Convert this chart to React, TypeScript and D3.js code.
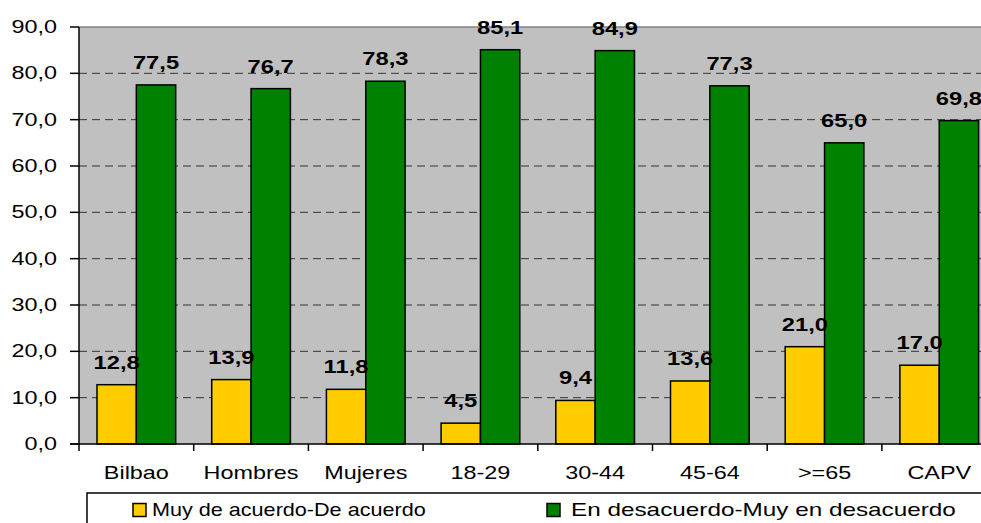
import React from "react";
import * as d3 from "d3";

const categories = ["Bilbao", "Hombres", "Mujeres", "18-29", "30-44", "45-64", ">=65", "CAPV"];
const seriesNames = ["Muy de acuerdo-De acuerdo", "En desacuerdo-Muy en desacuerdo"];
const acuerdo = [12.8, 13.9, 11.8, 4.5, 9.4, 13.6, 21.0, 17.0];
const desacuerdo = [77.5, 76.7, 78.3, 85.1, 84.9, 77.3, 65.0, 69.8];
const yTicks = [0, 10, 20, 30, 40, 50, 60, 70, 80, 90];
const colors = ["#FFCC00", "#008000"];

const W = 981;
const H = 523;
const left = 79;
const right = 996.6;
const top = 27;
const bottom = 444;

const fmt = (v: number) => d3.format(".1f")(v).replace(".", ",");
const font = "'Liberation Sans', Arial, sans-serif";

function T({ x, y, anchor = "start", size = 18, bold = false, sx = 1.3, children }: any) {
  return (
    <text
      transform={`translate(${x},${y}) scale(${sx},1)`}
      textAnchor={anchor}
      fontSize={size}
      fontWeight={bold ? "bold" : "normal"}
      fill="#000"
    >
      {children}
    </text>
  );
}

export default function App() {
  const x = d3.scaleBand<string>().domain(categories).range([left, right]).paddingInner(0.314).paddingOuter(0.157);
  const x0 = d3.scaleBand<string>().domain(categories).range([left, right]);
  const x1 = d3.scaleBand<number>().domain([0, 1]).range([0, x.bandwidth()]);
  const y = d3.scaleLinear().domain([0, 90]).range([bottom, top]);
  const series = [acuerdo, desacuerdo];

  return (
    <svg width={W} height={H} style={{ position: "absolute", left: 0, top: 0 }} fontFamily={font}>
      <rect x={left} y={top} width={right - left} height={bottom - top} fill="#C0C0C0" />
      <line x1={left} x2={right} y1={top} y2={top} stroke="#808080" strokeWidth={1.5} />
      {yTicks.filter((t) => t > 0 && t < 90).map((t) => (
        <line key={t} x1={left} x2={right} y1={y(t)} y2={y(t)} stroke="#333" strokeWidth={1} strokeDasharray="8,5" />
      ))}
      {series.map((vals, si) =>
        vals.map((v, i) => (
          <rect
            key={`${si}-${i}`}
            x={(x(categories[i]) as number) + (x1(si) as number)}
            y={y(v)}
            width={x1.bandwidth()}
            height={bottom - y(v)}
            fill={colors[si]}
            stroke="#000"
            strokeWidth={1.5}
          />
        ))
      )}
      {series.map((vals, si) =>
        vals.map((v, i) => (
          <T
            key={`l${si}-${i}`}
            x={(x(categories[i]) as number) + (x1(si) as number) + x1.bandwidth() / 2}
            y={y(v) - 16}
            anchor="middle"
            size={18}
            bold
            sx={1.32}
          >
            {fmt(v)}
          </T>
        ))
      )}
      <line x1={left} x2={left} y1={top} y2={bottom + 7} stroke="#000" strokeWidth={1.5} />
      <line x1={left - 9} x2={right} y1={bottom} y2={bottom} stroke="#000" strokeWidth={1.5} />
      {yTicks.map((t) => (
        <g key={`yt${t}`}>
          <line x1={left - 9} x2={left} y1={y(t)} y2={y(t)} stroke="#000" strokeWidth={1.5} />
          <T x={57} y={y(t) + 6} anchor="end" size={18} sx={1.3}>
            {fmt(t)}
          </T>
        </g>
      ))}
      {categories.map((c) => (
        <g key={`xt${c}`}>
          <line x1={(x0(c) as number) + x0.bandwidth()} x2={(x0(c) as number) + x0.bandwidth()} y1={bottom} y2={bottom + 7} stroke="#000" strokeWidth={1.5} />
          <T x={(x0(c) as number) + x0.bandwidth() / 2} y={479} anchor="middle" size={18} sx={1.3}>
            {c}
          </T>
        </g>
      ))}
      <rect x={87} y={493} width={1000} height={60} fill="#fff" stroke="#000" strokeWidth={1.5} />
      {seriesNames.map((n, i) => {
        const lx = i === 0 ? 133 : 547;
        return (
          <g key={n}>
            <rect x={lx} y={503.5} width={13} height={13} fill={colors[i]} stroke="#000" strokeWidth={1.5} />
            <T x={lx + (i === 0 ? 19 : 24)} y={516} size={18} sx={i === 0 ? 1.2 : 1.35}>
              {n}
            </T>
          </g>
        );
      })}
    </svg>
  );
}
